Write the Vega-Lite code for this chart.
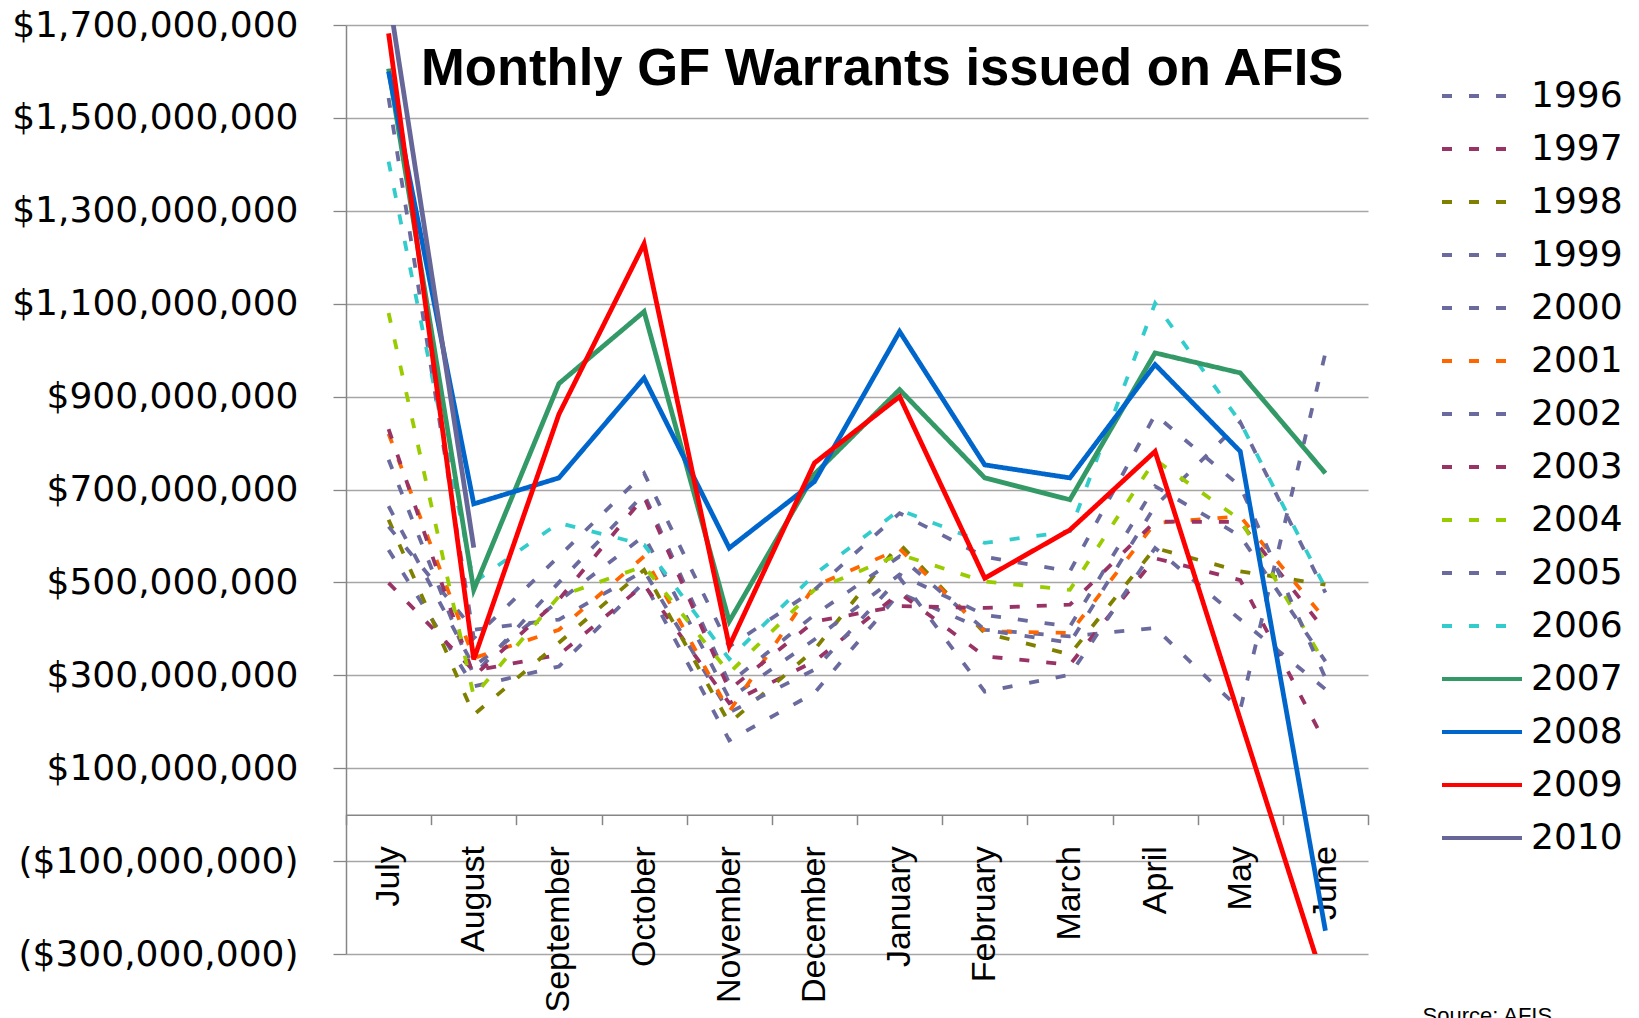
{
  "$schema": "https://vega.github.io/schema/vega-lite/v6.json",
  "width": 1022,
  "height": 929,
  "autosize": {"type": "none"},
  "padding": {"left": 346, "top": 25, "right": 271, "bottom": 64},
  "background": "white",
  "config": {"view": {"stroke": null}, "font": "Liberation Sans"},
  "title": {
    "text": "Monthly GF Warrants issued on AFIS",
    "font": "Liberation Sans",
    "fontSize": 52.6,
    "fontWeight": "bold",
    "color": "black",
    "anchor": "start",
    "frame": "group",
    "orient": "top",
    "offset": 0,
    "dx": 75,
    "dy": 131,
    "baseline": "alphabetic"
  },
  "data": {
    "values": [
      {"month": "July", "1996": 570000000, "1997": 499000000, "1998": 635000000, "1999": 620000000, "2000": 664000000, "2001": 820000000, "2002": 764000000, "2003": 830000000, "2004": 1080000000, "2005": 1543000000, "2006": 1406000000, "2007": 1606000000, "2008": 1600000000, "2009": 1682000000, "2010": 1766000000},
      {"month": "August", "1996": 276000000, "1997": 310000000, "1998": 215000000, "1999": 398000000, "2000": 319000000, "2001": 337000000, "2002": 300000000, "2003": 298000000, "2004": 255000000, "2005": 380000000, "2006": 500000000, "2007": 484000000, "2008": 669000000, "2009": 334000000, "2010": 575000000},
      {"month": "September", "1996": 319000000, "1997": 344000000, "1998": 370000000, "1999": 420000000, "2000": 460000000, "2001": 398000000, "2002": 500000000, "2003": 463000000, "2004": 470000000, "2005": 556000000, "2006": 628000000, "2007": 928000000, "2008": 725000000, "2009": 862000000},
      {"month": "October", "1996": 500000000, "1997": 495000000, "1998": 527000000, "1999": 525000000, "2000": 600000000, "2001": 556000000, "2002": 690000000, "2003": 684000000, "2004": 535000000, "2005": 735000000, "2006": 581000000, "2007": 1083000000, "2008": 940000000, "2009": 1229000000},
      {"month": "November", "1996": 160000000, "1997": 240000000, "1998": 197000000, "1999": 220000000, "2000": 250000000, "2001": 222000000, "2002": 283000000, "2003": 269000000, "2004": 305000000, "2005": 362000000, "2006": 335000000, "2007": 416000000, "2008": 574000000, "2009": 363000000},
      {"month": "December", "1996": 262000000, "1997": 330000000, "1998": 355000000, "1999": 312000000, "2000": 377000000, "2001": 492000000, "2002": 430000000, "2003": 416000000, "2004": 484000000, "2005": 484000000, "2006": 517000000, "2007": 733000000, "2008": 717000000, "2009": 757000000},
      {"month": "January", "1996": 477000000, "1997": 477000000, "1998": 583000000, "1999": 510000000, "2000": 517000000, "2001": 572000000, "2002": 556000000, "2003": 449000000, "2004": 560000000, "2005": 649000000, "2006": 656000000, "2007": 915000000, "2008": 1040000000, "2009": 900000000},
      {"month": "February", "1996": 398000000, "1997": 341000000, "1998": 391000000, "1999": 265000000, "2000": 430000000, "2001": 395000000, "2002": 398000000, "2003": 445000000, "2004": 502000000, "2005": 555000000, "2006": 585000000, "2007": 725000000, "2008": 753000000, "2009": 509000000},
      {"month": "March", "1996": 384000000, "1997": 323000000, "1998": 345000000, "1999": 301000000, "2000": 405000000, "2001": 391000000, "2002": 370000000, "2003": 452000000, "2004": 484000000, "2005": 524000000, "2006": 610000000, "2007": 678000000, "2008": 725000000, "2009": 613000000},
      {"month": "April", "1996": 402000000, "1997": 552000000, "1998": 574000000, "1999": 574000000, "2000": 707000000, "2001": 628000000, "2002": 664000000, "2003": 631000000, "2004": 764000000, "2005": 861000000, "2006": 1101000000, "2007": 994000000, "2008": 969000000, "2009": 782000000},
      {"month": "May", "1996": 226000000, "1997": 505000000, "1998": 524000000, "1999": 420000000, "2000": 600000000, "2001": 642000000, "2002": 845000000, "2003": 630000000, "2004": 635000000, "2005": 707000000, "2006": 845000000, "2007": 951000000, "2008": 782000000, "2009": 205000000},
      {"month": "June", "1996": 994000000, "1997": 154000000, "1998": 495000000, "1999": 270000000, "2000": 330000000, "2001": 420000000, "2002": 478000000, "2003": 395000000, "2004": 323000000, "2005": 294000000, "2006": 488000000, "2007": 735000000, "2008": -250000000, "2009": -370000000}
    ]
  },
  "transform": [
    {"fold": ["1996", "1997", "1998", "1999", "2000", "2001", "2002", "2003", "2004", "2005", "2006", "2007", "2008", "2009", "2010"], "as": ["year", "value"]},
    {"filter": "isValid(datum.value)"}
  ],
  "encoding": {
    "x": {
      "field": "month",
      "type": "nominal",
      "sort": ["July", "August", "September", "October", "November", "December", "January", "February", "March", "April", "May", "June"],
      "scale": {"type": "band", "paddingInner": 0, "paddingOuter": 0},
      "bandPosition": 0.5,
      "axis": {
        "orient": "bottom",
        "offset": -139.35,
        "tickBand": "extent",
        "tickSize": 10,
        "tickColor": "#868686",
        "tickWidth": 1.5,
        "domainColor": "#868686",
        "domainWidth": 1.5,
        "grid": false,
        "labelAngle": 270,
        "labelAlign": "right",
        "labelBaseline": "middle",
        "labelFont": "Liberation Sans",
        "labelFontSize": 34,
        "labelColor": "black",
        "labelPadding": 21,
        "labelOverlap": false,
        "labelLimit": 0,
        "title": "Source: AFIS",
        "titleFont": "Liberation Sans",
        "titleFontSize": 22,
        "titleFontWeight": "normal",
        "titleColor": "black",
        "titleX": 1076,
        "titleY": 208,
        "titleAlign": "left",
        "titleBaseline": "alphabetic",
        "titleAngle": 0
      }
    },
    "y": {
      "field": "value",
      "type": "quantitative",
      "scale": {"domain": [-300000000, 1700000000], "nice": false, "zero": false},
      "axis": {
        "values": [-300000000, -100000000, 100000000, 300000000, 500000000, 700000000, 900000000, 1100000000, 1300000000, 1500000000, 1700000000],
        "format": "($,.0f",
        "labelFont": "DejaVu Sans",
        "labelFontSize": 36,
        "labelColor": "black",
        "labelPadding": 35,
        "labelOverlap": false,
        "labelFlush": false,
        "labelLimit": 0,
        "tickSize": 13,
        "tickColor": "#868686",
        "tickWidth": 1.3,
        "domainColor": "#868686",
        "domainWidth": 1.5,
        "grid": true,
        "gridColor": "#A6A6A6",
        "gridWidth": 1.3,
        "title": null
      }
    },
    "color": {
      "field": "year",
      "type": "nominal",
      "scale": {
        "domain": ["1996", "1997", "1998", "1999", "2000", "2001", "2002", "2003", "2004", "2005", "2006", "2007", "2008", "2009", "2010"],
        "range": ["#6A6A9E", "#993366", "#808000", "#6A6A9E", "#6A6A9E", "#FF6600", "#6A6A9E", "#993366", "#99CC00", "#6A6A9E", "#33CCCC", "#339966", "#0066CC", "#FF0000", "#666699"]
      },
      "legend": {
        "title": null,
        "orient": "none",
        "legendX": 1094,
        "legendY": 51,
        "symbolType": "stroke",
        "symbolSize": 6400,
        "symbolStrokeWidth": 4,
        "labelFont": "DejaVu Sans",
        "labelFontSize": 36,
        "labelColor": "black",
        "labelOffset": 7,
        "rowPadding": 13,
        "clipHeight": 40,
        "symbolLimit": 20
      }
    },
    "strokeDash": {
      "field": "year",
      "type": "nominal",
      "scale": {
        "domain": ["1996", "1997", "1998", "1999", "2000", "2001", "2002", "2003", "2004", "2005", "2006", "2007", "2008", "2009", "2010"],
        "range": [[10, 17], [10, 17], [10, 17], [10, 17], [10, 17], [10, 17], [10, 17], [10, 17], [10, 17], [10, 17], [10, 17], [1, 0], [1, 0], [1, 0], [1, 0]]
      },
      "legend": {
        "title": null,
        "orient": "none",
        "legendX": 1094,
        "legendY": 51,
        "symbolType": "stroke",
        "symbolSize": 6400,
        "symbolStrokeWidth": 4,
        "labelFont": "DejaVu Sans",
        "labelFontSize": 36,
        "labelColor": "black",
        "labelOffset": 7,
        "rowPadding": 13,
        "clipHeight": 40,
        "symbolLimit": 20
      }
    }
  },
  "layer": [
    {
      "transform": [{"filter": {"field": "year", "oneOf": ["1996", "1997", "1998", "1999", "2000", "2001", "2002", "2003", "2004", "2005", "2006"]}}],
      "mark": {"type": "line", "strokeWidth": 3.8, "clip": true}
    },
    {
      "transform": [{"filter": {"field": "year", "oneOf": ["2007", "2008", "2009", "2010"]}}],
      "mark": {"type": "line", "strokeWidth": 4.8, "clip": true}
    }
  ]
}
